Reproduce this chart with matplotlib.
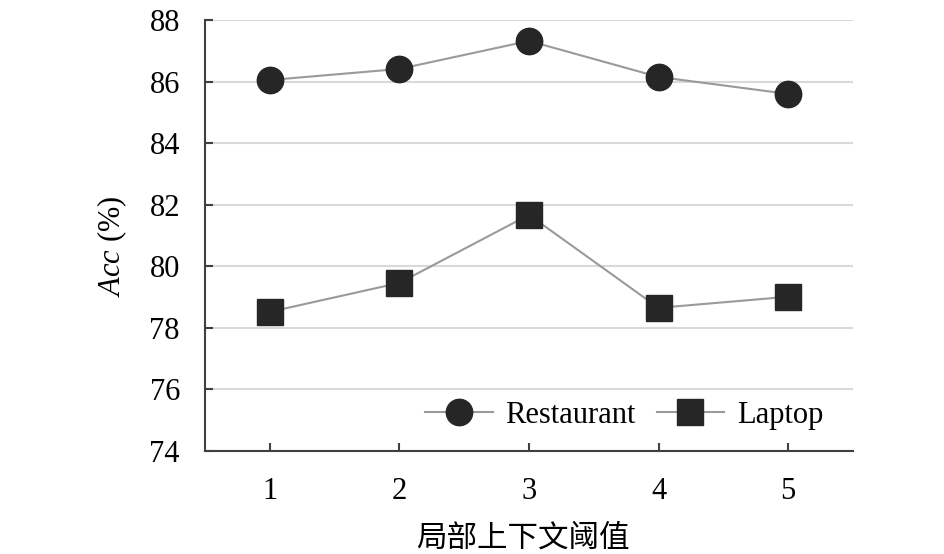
import matplotlib
matplotlib.use("Agg")
import matplotlib.pyplot as plt

thresholds = [1, 2, 3, 4, 5]
restaurant_acc = [86.05, 86.41, 87.32, 86.15, 85.60]
laptop_acc = [78.52, 79.46, 81.67, 78.65, 79.01]
y_ticks = [74, 76, 78, 80, 82, 84, 86, 88]

plt.rcParams["font.family"] = ["Liberation Serif", "Noto Sans CJK SC"]
plt.rcParams["mathtext.fontset"] = "custom"
plt.rcParams["mathtext.rm"] = "Liberation Serif"
plt.rcParams["mathtext.it"] = "Liberation Serif:italic"

fig = plt.figure(figsize=(9.45, 5.54), dpi=100)
ax = fig.add_axes([0.2169, 0.1859, 0.6857, 0.778])

ax.plot(thresholds, restaurant_acc, color="#9a9a9a", linewidth=1.5,
        marker="o", markersize=19, markerfacecolor="#262626",
        markeredgecolor="#262626", label="Restaurant", zorder=3)
ax.plot(thresholds, laptop_acc, color="#9a9a9a", linewidth=1.5,
        marker="s", markersize=19, markerfacecolor="#262626",
        markeredgecolor="#262626", label="Laptop", zorder=3)

ax.set_xlim(0.5, 5.5)
ax.set_ylim(74, 88)
ax.set_xticks(thresholds)
ax.set_yticks(y_ticks)

ax.grid(True, axis="y", color="#d9d9d9", linewidth=1.5)
ax.set_axisbelow(True)

for side in ("top", "right"):
    ax.spines[side].set_visible(False)
for side in ("left", "bottom"):
    ax.spines[side].set_color("#404040")
    ax.spines[side].set_linewidth(1.5)

ax.tick_params(axis="x", direction="in", length=6, width=1.5,
               color="#404040", labelsize=22, pad=19)
ax.tick_params(axis="y", direction="in", length=6, width=1.5,
               color="#404040", labelsize=22, pad=18)

ax.set_ylabel(r"$\mathit{Acc}$ (%)", fontsize=22)
ax.yaxis.set_label_coords(-0.118, 0.475)
ax.set_xlabel("局部上下文阈值", fontsize=22,
              family=["Noto Sans CJK SC"])
ax.xaxis.set_label_coords(0.491, -0.165)

ax.legend(loc="lower right", bbox_to_anchor=(0.973, 0.02), ncol=2,
          frameon=False, fontsize=22, handlelength=2.2,
          handletextpad=0.42, columnspacing=0.69, borderaxespad=0)

fig.savefig("out.png", dpi=100)
